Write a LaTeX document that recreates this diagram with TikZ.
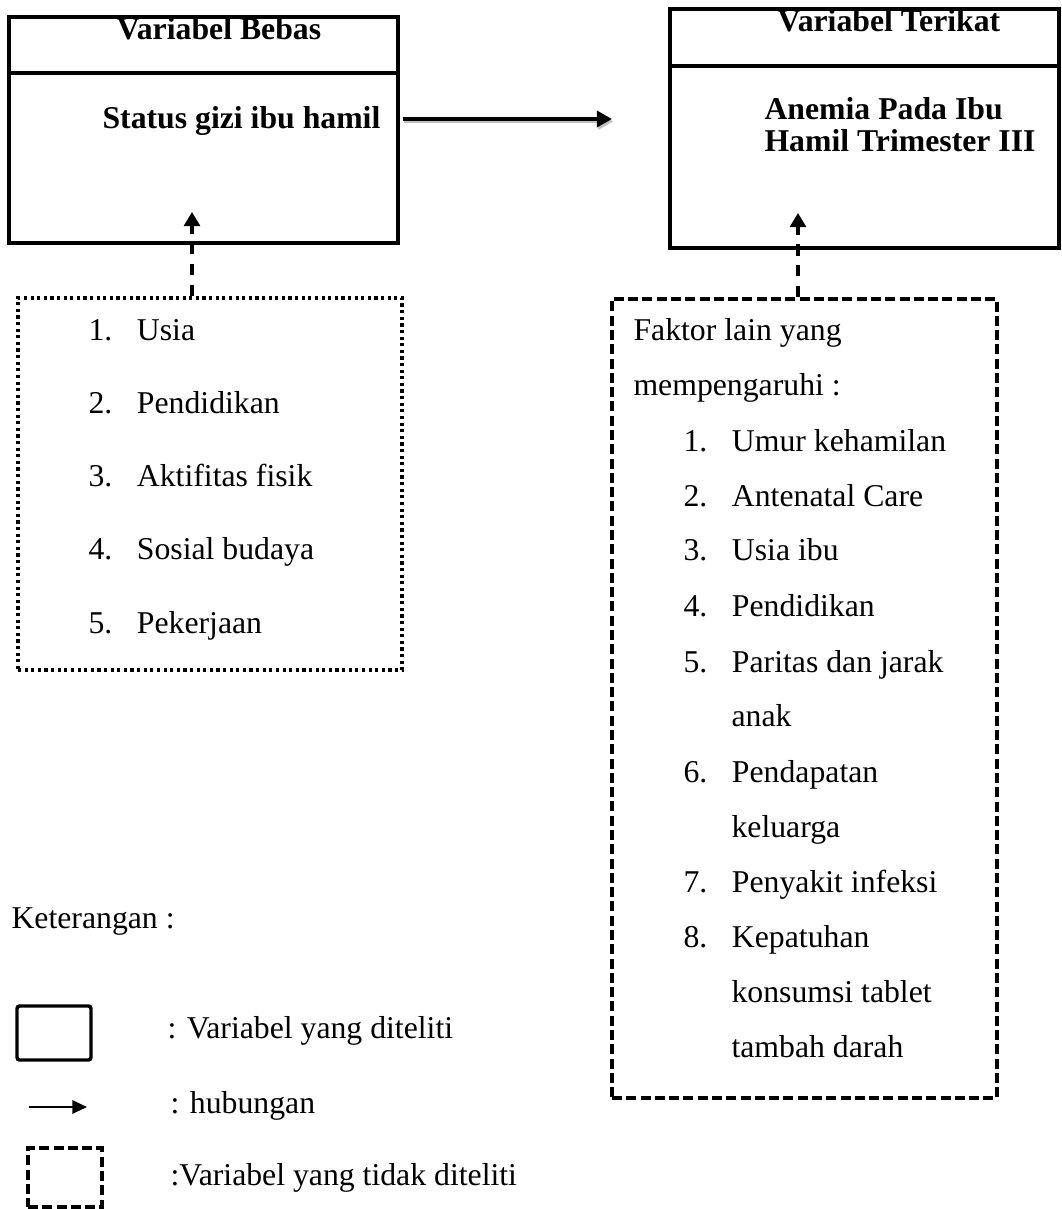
\documentclass[tikz,border=0pt]{standalone}
\usepackage{fontspec}
\setmainfont{Liberation Serif}
\usetikzlibrary{arrows.meta, fit}

\newcommand{\nomor}[1]{\makebox[18.3pt][l]{#1}}

\tikzstyle{kotak} = [
    rectangle,
    draw=black,
    line width=1.15pt,
    inner sep=0pt
]
\tikzstyle{kotaktitik} = [
    rectangle,
    draw=black,
    line width=1.3pt,
    dash pattern=on 1.2pt off 1.3pt,
    inner sep=0pt
]
\tikzstyle{kotakputus} = [
    rectangle,
    draw=black,
    line width=1.25pt,
    dash pattern=on 3.8pt off 1.6pt,
    inner sep=0pt
]
\tikzstyle{judul} = [anchor=base, inner sep=0pt, font=\fontsize{12}{14}\bfseries]
\tikzstyle{tebal} = [anchor=base west, inner sep=0pt, font=\fontsize{12}{14}\bfseries]
\tikzstyle{teks} = [anchor=base west, inner sep=0pt, font=\fontsize{12}{14}\selectfont]
\tikzstyle{panah} = [line width=1.6pt, -{Triangle[length=5.7pt,width=6pt]}]
\tikzstyle{panahputus} = [line width=1.15pt, dash pattern=on 4.4pt off 3.5pt, -{Triangle[length=5.3pt,width=6pt]}]

\begin{document}
\begin{tikzpicture}[x=0.378pt, y=-0.378pt]

\useasboundingbox (0,0) rectangle (1062,1209);

% variabel bebas
\node (bebas) [kotak, fit={(9,17) (398,243)}] {};
\draw [line width=1.15pt] (bebas.west |- 0,73) -- (bebas.east |- 0,73);
\node (judulbebas) [judul] at (219,40) {Variabel Bebas};
\node (gizi) [tebal] at (102,129) {Status gizi ibu hamil};

% variabel terikat
\node (terikat) [kotak, fit={(670,9) (1059,248)}] {};
\draw [line width=1.15pt] (terikat.west |- 0,66) -- (terikat.east |- 0,66);
\node (judulterikat) [judul] at (889,32) {Variabel Terikat};
\node (anemia1) [tebal] at (764,120) {Anemia Pada Ibu};
\node (anemia2) [tebal] at (764,152) {Hamil Trimester III};

% hubungan
\coordinate (ujung) at (612,119);
\draw [panah, black!25, shorten <=1.2pt, transform canvas={xshift=0.5pt, yshift=-0.9pt}] (bebas.east |- ujung) -- (ujung);
\draw [panah, shorten <=1.2pt] (bebas.east |- ujung) -- (ujung);

% faktor lain variabel bebas
\node (lainbebas) [kotaktitik, fit={(18,298) (402,670)}] {};

\node (usia) [teks] at (88,340) {\nomor{1.}Usia};
\node (pendidikan) [teks] at (88,413) {\nomor{2.}Pendidikan};
\node (aktifitas) [teks] at (88,486) {\nomor{3.}Aktifitas fisik};
\node (sosbud) [teks] at (88,559) {\nomor{4.}Sosial budaya};
\node (pekerjaan) [teks] at (88,633) {\nomor{5.}Pekerjaan};

\coordinate (tipbebas) at (192,212);
\draw [panahputus] (tipbebas |- lainbebas.north) -- (tipbebas);

% faktor lain variabel terikat
\node (lainterikat) [kotakputus, fit={(612,299) (997,1098)}] {};

\node (faktor) [teks] at (633,340) {Faktor lain yang};
\node (mempengaruhi) [teks] at (633,395) {mempengaruhi :};
\node (umur) [teks] at (683,451) {\nomor{1.}Umur kehamilan};
\node (anc) [teks] at (683,506) {\nomor{2.}Antenatal Care};
\node (usiaibu) [teks] at (683,560) {\nomor{3.}Usia ibu};
\node (pendidikanibu) [teks] at (683,616) {\nomor{4.}Pendidikan};
\node (paritas) [teks] at (683,672) {\nomor{5.}Paritas dan jarak};
\node (anak) [teks] at (731,726) {anak};
\node (pendapatan) [teks] at (683,782) {\nomor{6.}Pendapatan};
\node (keluarga) [teks] at (731,837) {keluarga};
\node (infeksi) [teks] at (683,892) {\nomor{7.}Penyakit infeksi};
\node (kepatuhan) [teks] at (683,947) {\nomor{8.}Kepatuhan};
\node (konsumsi) [teks] at (731,1002) {konsumsi tablet};
\node (tambah) [teks] at (731,1057) {tambah darah};

\coordinate (tipterikat) at (798,213);
\draw [panahputus] (tipterikat |- lainterikat.north) -- (tipterikat);

% keterangan
\node (keterangan) [teks] at (11,928) {Keterangan :};

\node (lgdkotak) [kotak, line width=1.3pt, rounded corners=1pt, fit={(17,1006) (91,1060)}] {};
\node (lgdteliti) [teks] at (167,1038) {: Variabel yang diteliti};

\coordinate (lgdawal) at (29,1107);
\coordinate (lgdujung) at (87,1107);
\draw [line width=0.8pt, -{Triangle[length=5.5pt,width=5pt]}] (lgdawal) -- (lgdujung);
\node (lgdhub) [teks] at (170,1113) {: hubungan};

\node (lgdputus) [kotakputus, fit={(28,1148) (102,1207)}] {};
\node (lgdtidak) [teks] at (170,1185) {:Variabel yang tidak diteliti};

\end{tikzpicture}
\end{document}
